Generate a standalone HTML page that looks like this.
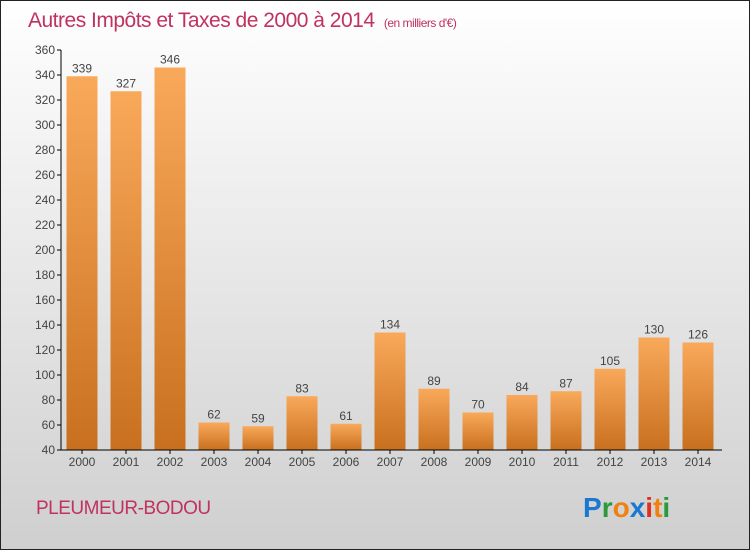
<!DOCTYPE html>
<html><head><meta charset="utf-8"><style>
body{margin:0}
#c{width:750px;height:550px;position:relative;overflow:hidden;font-family:"Liberation Sans",sans-serif}
</style></head><body>
<div id="c">
<svg id="s" width="750" height="550" xmlns="http://www.w3.org/2000/svg">
<defs>
<linearGradient id="bg" x1="0" y1="0" x2="0" y2="1"><stop offset="0" stop-color="#ffffff"/><stop offset="1" stop-color="#cfcfcf"/></linearGradient>
<linearGradient id="bar" x1="0" y1="0" x2="0" y2="1"><stop offset="0" stop-color="#f9a95a"/><stop offset="1" stop-color="#c8701f"/></linearGradient>
</defs>
<rect x="0.5" y="0.5" width="749" height="549" fill="url(#bg)" stroke="#222"/>
<text x="28" y="27" font-size="21" fill="#c0325f" letter-spacing="-0.5">Autres Impôts et Taxes de 2000 à 2014 <tspan font-size="12" dx="4">(en milliers d'€)</tspan></text>
<text x="36" y="514" font-size="19" fill="#c0325f" letter-spacing="-0.5">PLEUMEUR-BODOU</text>
<g font-size="28" font-family="'Liberation Sans',sans-serif" font-weight="bold">
<text x="583" y="517"><tspan fill="#1b78d0">P</tspan><tspan fill="#2a9a3a">r</tspan><tspan fill="#f08010">o</tspan><tspan fill="#1b78d0">x</tspan><tspan fill="#e03020">i</tspan><tspan fill="#f08010">t</tspan><tspan fill="#2a9a3a">i</tspan></text>
</g>
<g id="plot"></g>
</svg>
</div>
<script>
const years=["2000","2001","2002","2003","2004","2005","2006","2007","2008","2009","2010","2011","2012","2013","2014"];
const values=[339,327,346,62,59,83,61,134,89,70,84,87,105,130,126];
const ticks=[40,60,80,100,120,140,160,180,200,220,240,260,280,300,320,340,360];
const NS="http://www.w3.org/2000/svg";
const g=document.getElementById('plot');
const y=v=>450-(v-40)*1.25;
const x=i=>82+i*44;
function mk(t,a){const e=document.createElementNS(NS,t);for(const k in a)e.setAttribute(k,a[k]);g.appendChild(e);return e;}
years.forEach((yr,i)=>{
 const r=mk('rect',{x:x(i)-15.5,y:y(values[i]),width:31,height:450-y(values[i]),fill:'url(#bar)'});
 
 
 const t=mk('text',{x:x(i),y:y(values[i])-4,'font-size':12,'text-anchor':'middle',fill:'#444'});
 t.textContent=values[i];
 
 
 const l=mk('text',{x:x(i),y:466,'font-size':12,'text-anchor':'middle',fill:'#444'});
 l.textContent=yr;
 
 
 const tk=mk('line',{x1:x(i),x2:x(i),y1:450,y2:454,stroke:'#000'});
 
 
});
ticks.forEach(v=>{
 const l=mk('line',{x1:57,x2:61,y1:y(v),y2:y(v),stroke:'#000'});
 
 
 const t=mk('text',{x:55,y:y(v)+4,'font-size':12,'text-anchor':'end',fill:'#444'});
 t.textContent=v;
 
 
});
const ya=mk('line',{x1:61,x2:61,y1:50,y2:450,stroke:'#000'});


const xa=mk('line',{x1:61,x2:722,y1:450,y2:450,stroke:'#000'});


</script>
</body></html>
